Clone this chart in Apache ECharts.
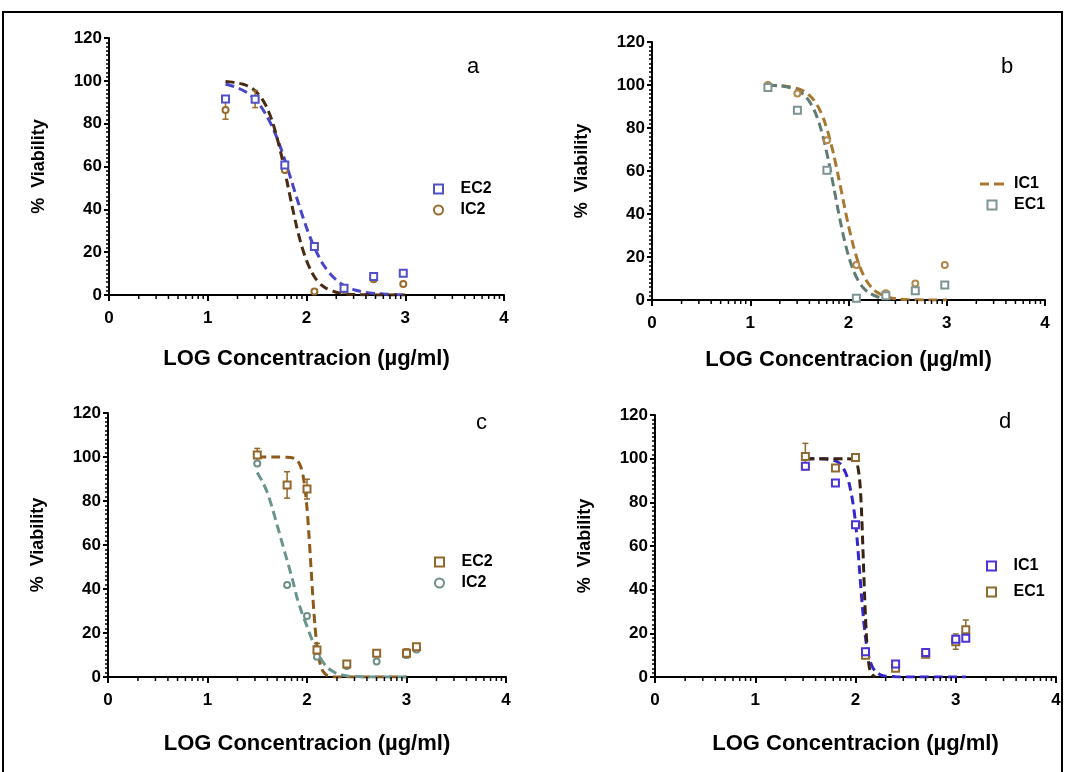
<!DOCTYPE html>
<html>
<head>
<meta charset="utf-8">
<script src="https://cdn.jsdelivr.net/npm/echarts@6/dist/echarts.min.js"></script>
<style>html,body{margin:0;padding:0;background:#fff;}#c{width:1066px;height:772px;}</style>
</head>
<body>
<div id="c"></div>
<script>
// ---------- DATA ----------
const X_A = [1.18, 1.48, 1.78, 2.08, 2.38, 2.68, 2.98];
const A_EC2 = [91.5, 91.4, 60.7, 22.6, 3.1, 8.6, 10.1];
const A_IC2 = [86.4, 91.5, 58.4, 1.6, 2.3, 7.3, 5.1];
const A_IC2_ERR = [4.3, 4, 0, 0, 0, 0, 0];
const A_EC2_FIT_X = [1.18, 1.25, 1.3, 1.35, 1.4, 1.45, 1.5, 1.55, 1.6, 1.65, 1.7, 1.75, 1.8, 1.85, 1.9, 1.95, 2.0, 2.05, 2.1, 2.15, 2.2, 2.25, 2.3, 2.35, 2.4, 2.5, 2.6, 2.7, 2.8, 2.9, 3.0];
const A_EC2_FIT_Y = [98.4, 97.6, 96.8, 95.7, 94.4, 92.5, 90.2, 87.2, 83.4, 78.9, 73.5, 67.2, 60.3, 53.0, 45.5, 38.3, 31.5, 25.4, 20.2, 15.7, 12.2, 9.3, 7.1, 5.3, 4.0, 2.2, 1.2, 0.7, 0.4, 0.2, 0.1];
const A_IC2_FIT_X = [1.18, 1.25, 1.3, 1.35, 1.4, 1.45, 1.5, 1.55, 1.6, 1.65, 1.7, 1.75, 1.8, 1.85, 1.9, 1.95, 2.0, 2.05, 2.1, 2.15, 2.2, 2.3, 2.4, 2.5, 2.6, 2.8, 3.0];
const A_IC2_FIT_Y = [99.7, 99.4, 99.0, 98.5, 97.7, 96.4, 94.4, 91.6, 87.4, 81.6, 73.8, 64.4, 53.5, 42.4, 31.9, 23.1, 16.1, 10.9, 7.2, 4.7, 3.1, 1.3, 0.5, 0.2, 0.1, 0, 0];

const X_B = [1.18, 1.48, 1.78, 2.08, 2.38, 2.68, 2.98];
const B_IC1 = [100, 96, 74.3, 16.3, 3.1, 7.7, 16.3];
const B_EC1 = [98.8, 88.2, 60.4, 0.8, 2, 4.3, 7];
const B_IC1_FIT_X = [1.18, 1.3, 1.4, 1.5, 1.55, 1.6, 1.65, 1.7, 1.75, 1.8, 1.85, 1.9, 1.95, 2.0, 2.05, 2.1, 2.15, 2.2, 2.25, 2.3, 2.4, 2.5, 2.6, 2.8, 3.0];
const B_IC1_FIT_Y = [99.9, 99.7, 99.2, 98.1, 97.0, 95.3, 92.8, 89.1, 83.8, 76.6, 67.5, 56.8, 45.5, 34.5, 25.1, 17.4, 11.8, 7.8, 5.1, 3.3, 1.3, 0.5, 0.2, 0, 0];
const B_EC1_FIT_X = [1.18, 1.3, 1.4, 1.5, 1.55, 1.6, 1.65, 1.7, 1.75, 1.8, 1.85, 1.9, 1.95, 2.0, 2.05, 2.1, 2.15, 2.2, 2.3, 2.4];
const B_EC1_FIT_Y = [99.9, 99.6, 98.8, 97.0, 95.2, 92.5, 88.4, 82.4, 74.3, 64.0, 52.4, 40.4, 29.5, 20.5, 13.7, 8.9, 5.7, 3.6, 1.4, 0.5];

const X_C = [1.5, 1.8, 2.0, 2.1, 2.4, 2.7, 3.0, 3.1];
const C_EC2 = [100.9, 87.3, 85.4, 12.3, 5.9, 10.8, 10.8, 13.8];
const C_EC2_ERR = [3, 6, 4.5, 3, 0, 0, 2, 0];
const C_IC2 = [97.1, 41.8, 27.7, 9.2, 5, 7, 10, 12.5];
const C_EC2_FIT_X = [1.5, 1.7, 1.8, 1.85, 1.88, 1.9, 1.92, 1.94, 1.96, 1.98, 2.0, 2.02, 2.04, 2.06, 2.08, 2.1, 2.12, 2.14, 2.16, 2.2, 2.25, 2.3, 2.5, 3.0];
const C_EC2_FIT_Y = [100, 100, 99.9, 99.7, 99.2, 98.5, 97.3, 95.2, 91.6, 85.8, 76.8, 64.5, 50, 35.5, 23.2, 14.2, 8.4, 4.8, 2.7, 0.8, 0.2, 0, 0, 0];
const C_IC2_FIT_X = [1.5, 1.55, 1.6, 1.65, 1.7, 1.75, 1.8, 1.85, 1.9, 1.95, 2.0, 2.05, 2.1, 2.15, 2.2, 2.25, 2.3, 2.35, 2.4, 2.5, 2.6, 3.0];
const C_IC2_FIT_Y = [93, 89, 84, 77, 69, 61, 53, 45, 36, 29, 23, 17, 11.5, 7.5, 4.5, 2.8, 1.5, 0.9, 0.5, 0.2, 0, 0];

const X_D = [1.5, 1.8, 2.0, 2.1, 2.4, 2.7, 3.0, 3.1];
const D_IC1 = [96.5, 88.8, 69.7, 11.6, 6, 11.2, 17.3, 17.7];
const D_EC1 = [101, 95.7, 100.5, 10, 4, 10.4, 16.2, 21.6];
const D_EC1_ERR = [6, 0, 0, 0, 0, 0, 3.5, 4.5];
const D_IC1_FIT_X = [1.5, 1.7, 1.8, 1.85, 1.88, 1.91, 1.94, 1.97, 2.0, 2.02, 2.04, 2.06, 2.08, 2.1, 2.12, 2.14, 2.17, 2.2, 2.25, 2.3, 2.4, 2.5, 3.1];
const D_IC1_FIT_Y = [100, 99.8, 99, 97.5, 95.5, 92.5, 88, 81, 71, 61, 49, 37, 26.5, 18, 12, 8, 4.5, 2.5, 1, 0.4, 0.1, 0, 0];
const D_EC1_FIT_X = [1.5, 1.9, 1.98, 2.0, 2.02, 2.04, 2.05, 2.06, 2.07, 2.08, 2.09, 2.1, 2.11, 2.12, 2.13, 2.14, 2.16, 2.18, 2.2];
const D_EC1_FIT_Y = [100, 100, 99.8, 99, 97, 91, 85, 76, 64, 51, 38, 27, 18, 11, 7, 4, 1.5, 0.5, 0];

const X_TICKS = [0, 1, 2, 3, 4];
const Y_TICKS = [0, 20, 40, 60, 80, 100, 120];
const LOG_MINOR = [0.301, 0.477, 0.602, 0.699, 0.778, 0.845, 0.903, 0.954];

// ---------- LAYOUT ----------
const GRIDS = [
  {left: 109, top: 38, width: 395, height: 257},
  {left: 652, top: 42, width: 393, height: 258},
  {left: 108, top: 413, width: 398, height: 264},
  {left: 655, top: 415, width: 401, height: 262}
];
const X_NAME_GAP = [53, 49, 56, 56];
const PANEL_LETTERS = ['a', 'b', 'c', 'd'];
const LETTER_POS = [[468, 65], [1002, 65], [477, 421], [1000, 420]];

const zip = (xs, ys) => xs.map((x, i) => [x, ys[i]]);
const zipErr = (xs, ys, es) => xs.map((x, i) => [x, ys[i], es[i]]).filter(d => d[2] > 0);

const FONT = "'Liberation Sans', Arial, sans-serif";

function mkX(i) {
  return {
    gridIndex: i, type: 'value', min: 0, max: 4, interval: 1,
    axisLine: {show: true, onZero: false, lineStyle: {color: '#000', width: 2}},
    axisTick: {show: true, length: 6, lineStyle: {color: '#000', width: 2}},
    splitLine: {show: false},
    axisLabel: {color: '#000', fontFamily: FONT, fontWeight: 'bold', fontSize: 17, margin: 15},
    name: 'LOG Concentracion (µg/ml)', nameLocation: 'middle', nameGap: X_NAME_GAP[i],
    nameTextStyle: {color: '#000', fontFamily: FONT, fontWeight: 'bold', fontSize: 22}
  };
}
function mkY(i) {
  return {
    gridIndex: i, type: 'value', min: 0, max: 120, interval: 20,
    axisLine: {show: true, lineStyle: {color: '#000', width: 2}},
    axisTick: {show: true, length: 5, lineStyle: {color: '#000', width: 2}},
    minorTick: {show: true, splitNumber: 10, length: 3, lineStyle: {color: '#000', width: 1.5}},
    splitLine: {show: false},
    axisLabel: {color: '#000', fontFamily: FONT, fontWeight: 'bold', fontSize: 17, margin: 7},
    name: '%  Viability', nameLocation: 'middle', nameGap: 61,
    nameTextStyle: {color: '#000', fontFamily: FONT, fontWeight: 'bold', fontSize: 18}
  };
}

function fit(i, name, xs, ys, color) {
  return {
    type: 'line', name: name, xAxisIndex: i, yAxisIndex: i, data: zip(xs, ys),
    symbol: 'none', showSymbol: false, smooth: 0.25, z: 2,
    lineStyle: {color: color, width: 3, type: [9, 5]}, itemStyle: {color: color}
  };
}
function pts(i, name, xs, ys, color, sym) {
  return {
    type: 'scatter', name: name, xAxisIndex: i, yAxisIndex: i, data: zip(xs, ys),
    symbol: sym, symbolSize: sym === 'circle' ? 6 : 7, z: 4,
    itemStyle: {color: '#fff', borderColor: color, borderWidth: 2, opacity: 1}
  };
}
function errs(i, xs, ys, es, color) {
  return {
    type: 'custom', xAxisIndex: i, yAxisIndex: i, data: zipErr(xs, ys, es), z: 3, clip: false,
    renderItem: function (params, api) {
      const x = api.value(0), y = api.value(1), e = api.value(2);
      const p1 = api.coord([x, y + e]), p2 = api.coord([x, y - e]);
      const st = {stroke: color, lineWidth: 1.5};
      return {type: 'group', children: [
        {type: 'line', shape: {x1: p1[0], y1: p1[1], x2: p2[0], y2: p2[1]}, style: st},
        {type: 'line', shape: {x1: p1[0] - 3, y1: p1[1], x2: p1[0] + 3, y2: p1[1]}, style: st},
        {type: 'line', shape: {x1: p2[0] - 3, y1: p2[1], x2: p2[0] + 3, y2: p2[1]}, style: st}
      ]};
    }
  };
}
function minorX(i) {
  const ticks = [];
  for (let u = 0; u < 4; u++) LOG_MINOR.forEach(m => ticks.push([u + m, 0]));
  return {
    type: 'custom', xAxisIndex: i, yAxisIndex: i, data: ticks, z: 5, clip: false, silent: true,
    renderItem: function (params, api) {
      const p = api.coord([api.value(0), 0]);
      return {type: 'line', shape: {x1: p[0], y1: p[1], x2: p[0], y2: p[1] + 4}, style: {stroke: '#000', lineWidth: 1.5}};
    }
  };
}

const SQ = 'path://M0,0 L10,0 L10,10 L0,10 Z';
const CI = 'circle';
const DASH_ICON = 'path://M0,0 L9,0 L9,3 L0,3 Z M14,0 L24,0 L24,3 L14,3 Z';

const C = {
  blue: '#5050c8', blueFit: '#4a46c8', brownPt: '#9a6a2a', darkFit: '#4a2a12',
  tan: '#b4864a', tanFit: '#a8782e', gray: '#7c9494', grayFit: '#5e7c74',
  teal: '#6e8e88', tealFit: '#6a948e', cBrown: '#94662a', cBrownFit: '#8e5a1a',
  dBlue: '#4a34d4', dBlueFit: '#3426cc', dBrown: '#8c6a30', dDarkFit: '#3a2212'
};

const series = [
  // a
  fit(0, 'a_fitEC2', A_EC2_FIT_X, A_EC2_FIT_Y, C.blueFit),
  fit(0, 'a_fitIC2', A_IC2_FIT_X, A_IC2_FIT_Y, C.darkFit),
  errs(0, X_A, A_IC2, A_IC2_ERR, C.brownPt),
  pts(0, 'a_IC2', X_A, A_IC2, C.brownPt, CI),
  pts(0, 'a_EC2', X_A, A_EC2, C.blue, SQ),
  minorX(0),
  // b
  fit(1, 'b_IC1', B_IC1_FIT_X, B_IC1_FIT_Y, C.tanFit),
  fit(1, 'b_fitEC1', B_EC1_FIT_X, B_EC1_FIT_Y, C.grayFit),
  pts(1, 'b_ptIC1', X_B, B_IC1, C.tan, CI),
  pts(1, 'b_EC1', X_B, B_EC1, C.gray, SQ),
  minorX(1),
  // c
  fit(2, 'c_fitEC2', C_EC2_FIT_X, C_EC2_FIT_Y, C.cBrownFit),
  fit(2, 'c_fitIC2', C_IC2_FIT_X, C_IC2_FIT_Y, C.tealFit),
  errs(2, X_C, C_EC2, C_EC2_ERR, C.cBrown),
  pts(2, 'c_IC2', X_C, C_IC2, C.teal, CI),
  pts(2, 'c_EC2', X_C, C_EC2, C.cBrown, SQ),
  minorX(2),
  // d
  fit(3, 'd_fitIC1', D_IC1_FIT_X, D_IC1_FIT_Y, C.dBlueFit),
  fit(3, 'd_fitEC1', D_EC1_FIT_X, D_EC1_FIT_Y, C.dDarkFit),
  errs(3, X_D, D_EC1, D_EC1_ERR, C.dBrown),
  pts(3, 'd_EC1', X_D, D_EC1, C.dBrown, SQ),
  pts(3, 'd_IC1', X_D, D_IC1, C.dBlue, SQ),
  minorX(3)
];

function legend(names, left, top, gap) {
  return {
    data: names, left: left, top: top, orient: 'vertical', itemGap: gap,
    itemWidth: 24, itemHeight: 9, selectedMode: false,
    formatter: n => n.split('_')[1],
    textStyle: {color: '#000', fontFamily: FONT, fontWeight: 'bold', fontSize: 16, padding: [0, 0, 0, 5]}
  };
}

const option = {
  animation: false,
  backgroundColor: '#fff',
  grid: GRIDS.map(g => Object.assign({containLabel: false}, g)),
  xAxis: [0, 1, 2, 3].map(mkX),
  yAxis: [0, 1, 2, 3].map(mkY),
  legend: [
    legend(['a_EC2', 'a_IC2'], 428, 176, 5),
    legend([{name: 'b_IC1', icon: DASH_ICON, itemStyle: {color: C.tanFit}}, 'b_EC1'], 975, 171, 5),
    legend(['c_EC2', 'c_IC2'], 429, 549, 5),
    legend(['d_IC1', 'd_EC1'], 981, 553, 10)
  ],
  title: PANEL_LETTERS.map((t, i) => ({
    text: t, left: LETTER_POS[i][0] - 6, top: LETTER_POS[i][1] - 14,
    textStyle: {color: '#000', fontFamily: FONT, fontWeight: 'normal', fontSize: 22}
  })),
  graphic: [{
    type: 'polyline', silent: true,
    shape: {points: [[3, 772], [3, 12], [1062, 12], [1062, 772]]},
    style: {stroke: '#000', lineWidth: 2, fill: null}
  }],
  series: series
};

const chart = echarts.init(document.getElementById('c'), null, {renderer: 'canvas'});
chart.setOption(option);
</script>
</body>
</html>
